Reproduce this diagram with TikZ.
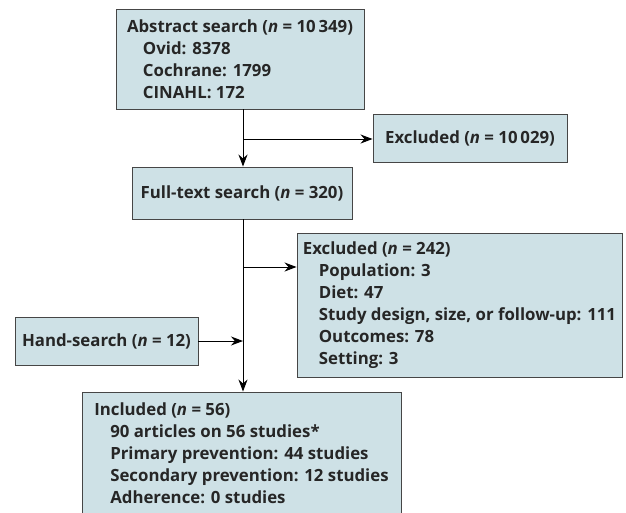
\documentclass[tikz,border=0pt]{standalone}
\usepackage{fontspec}
\setmainfont{Open Sans}
\usetikzlibrary{arrows.meta}
\definecolor{boxfill}{RGB}{206,225,230}
\definecolor{boxline}{RGB}{70,70,70}
\newcommand{\ind}{\hspace*{0.95em}}
\begin{document}
\begin{tikzpicture}[x=1pt, y=-1pt, font=\bfseries\fontsize{16.8}{22}\selectfont,
  box/.style={draw=boxline, fill=boxfill, line width=0.9pt, rectangle, align=left, inner sep=0pt, text=black!85},
  link/.style={line width=1pt},
  flow/.style={line width=1pt, -{Stealth[length=12pt,width=9pt]}}]
\useasboundingbox (0,0) rectangle (626,512);
\node[box, minimum width=248, minimum height=100] (abs) at (240,59) {Abstract search (\textit{n} = 10\,349)\\\ind Ovid: 8378\\\ind Cochrane: 1799\\\ind CINAHL: 172};
\node[box, minimum width=194, minimum height=48] (exc1) at (470,138) {Excluded (\textit{n} = 10\,029)};
\node[box, minimum width=220, minimum height=52] (full) at (242,193) {Full-text search (\textit{n} = 320)};
\node[box, minimum width=325, minimum height=144] (exc2) at (459.5,305) {Excluded (\textit{n} = 242)\\\ind Population: 3\\\ind Diet: 47\\\ind Study design, size, or follow-up: 111\\\ind Outcomes: 78\\\ind Setting: 3};
\node[box, minimum width=183, minimum height=48] (hand) at (106.5,341) {Hand-search (\textit{n} = 12)};
\node[box, minimum width=319, minimum height=122] (incl) at (241.5,453) {Included (\textit{n} = 56)\\\ind 90 articles on 56 studies*\\\ind Primary prevention: 44 studies\\\ind Secondary prevention: 12 studies\\\ind Adherence: 0 studies};
\coordinate (split1) at (243,139);
\coordinate (split2) at (243,267);
\coordinate (join) at (243,341);
\draw[link] (abs.south -| split1) -- (split1);
\draw[flow] (split1) -- (full.north -| split1);
\draw[flow] (split1) -- (split1 -| exc1.west);
\draw[link] (full.south -| split2) -- (split2);
\draw[flow] (split2) -- (incl.north -| split2);
\draw[flow] (split2) -- (split2 -| exc2.west);
\draw[flow] (hand.east) -- (join);
\end{tikzpicture}
\end{document}
